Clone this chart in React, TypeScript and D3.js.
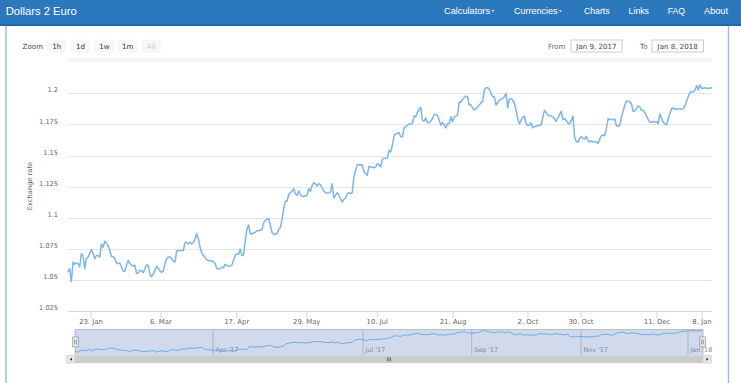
import React from 'react';
import * as d3 from 'd3';

// ---- data ----
const rates: number[] = [
  1.0566, 1.0592, 1.0487, 1.0645, 1.0626, 1.0637, 1.0632, 1.0605, 1.0711, 1.0697,
  1.0592, 1.0671, 1.0684, 1.0716, 1.0745, 1.0716, 1.0671, 1.0697, 1.0697, 1.0684,
  1.0789, 1.0763, 1.0811, 1.0797, 1.0776, 1.0737, 1.0689, 1.0689, 1.0671, 1.0637,
  1.0632, 1.0637, 1.0605, 1.0571, 1.0571, 1.0618, 1.0658, 1.0632, 1.0618, 1.0613,
  1.0618, 1.0553, 1.0558, 1.0579, 1.0574, 1.0558, 1.0592, 1.0624, 1.0618, 1.0547,
  1.0526, 1.0547, 1.0579, 1.0611, 1.0592, 1.0574, 1.0561, 1.0574, 1.0632, 1.0671,
  1.0684, 1.0684, 1.0671, 1.0650, 1.0645, 1.0732, 1.0737, 1.0737, 1.0737, 1.0737,
  1.0803, 1.0803, 1.0789, 1.0803, 1.0789, 1.0803, 1.0829, 1.0874, 1.0829, 1.0763,
  1.0716, 1.0697, 1.0679, 1.0663, 1.0658, 1.0653, 1.0653, 1.0645, 1.0632, 1.0592,
  1.0589, 1.0592, 1.0605, 1.0597, 1.0626, 1.0618, 1.0611, 1.0611, 1.0618, 1.0658,
  1.0697, 1.0711, 1.0705, 1.0750, 1.0697, 1.0697, 1.0816, 1.0908, 1.0942, 1.0874,
  1.0868, 1.0882, 1.0882, 1.0895, 1.0895, 1.0900, 1.0908, 1.0961, 1.0979, 1.0987,
  1.0995, 1.0942, 1.0882, 1.0868, 1.0868, 1.0874, 1.0908, 1.0921, 1.0987,
  1.1073, 1.1134, 1.1132, 1.1185, 1.1202, 1.1212, 1.1234, 1.1194, 1.1180, 1.1215,
  1.1185, 1.1175, 1.1172, 1.1175, 1.1185, 1.1234, 1.1212, 1.1261, 1.1282, 1.1274,
  1.1255, 1.1274, 1.1266, 1.1239, 1.1215, 1.1202, 1.1199, 1.1202, 1.1207, 1.1274,
  1.1159, 1.1180, 1.1202, 1.1185, 1.1153, 1.1126, 1.1148, 1.1159, 1.1194, 1.1202,
  1.1194, 1.1202, 1.1328, 1.1382, 1.1427, 1.1427, 1.1422, 1.1427, 1.1368, 1.1355,
  1.1341, 1.1414, 1.1409, 1.1409, 1.1401, 1.1409, 1.1435, 1.1427, 1.1409, 1.1470,
  1.1481, 1.1476, 1.1481, 1.1543, 1.1530, 1.1583, 1.1659, 1.1675, 1.1677, 1.1685,
  1.1651, 1.1651, 1.1723, 1.1731, 1.1745, 1.1753, 1.1753, 1.1758, 1.1820, 1.1812,
  1.1847, 1.1874, 1.1887, 1.1780, 1.1777, 1.1804, 1.1763, 1.1766, 1.1777, 1.1798,
  1.1831, 1.1831, 1.1825, 1.1785, 1.1745, 1.1766, 1.1745, 1.1723, 1.1758, 1.1758,
  1.1812, 1.1772, 1.1812, 1.1817, 1.1825, 1.1933, 1.1927, 1.1952, 1.1968, 1.1978,
  1.1973, 1.1906, 1.1911, 1.1879, 1.1866, 1.1879, 1.1892, 1.1906, 1.1927, 1.1933,
  1.2027, 1.2046, 1.2046, 1.2035, 1.2000, 1.1973, 1.1973, 1.1906,
  1.1927, 1.1946, 1.1954, 1.1959, 1.1973, 1.2000, 1.1883, 1.1954, 1.1959, 1.1946,
  1.1918, 1.1864, 1.1796, 1.1755, 1.1783, 1.1810, 1.1818, 1.1755, 1.1742, 1.1747,
  1.1764, 1.1723, 1.1734, 1.1736, 1.1742, 1.1742, 1.1747, 1.1810, 1.1864, 1.1845,
  1.1823, 1.1823, 1.1818, 1.1810, 1.1796, 1.1774, 1.1802, 1.1829, 1.1856, 1.1791,
  1.1796, 1.1783, 1.1761, 1.1755, 1.1783, 1.1818, 1.1647, 1.1614, 1.1606, 1.1639,
  1.1652, 1.1641, 1.1633, 1.1655, 1.1620, 1.1611, 1.1617, 1.1611, 1.1611, 1.1606,
  1.1598, 1.1633, 1.1660, 1.1666, 1.1660, 1.1715, 1.1796, 1.1791, 1.1791, 1.1788,
  1.1796, 1.1742, 1.1736, 1.1742, 1.1810, 1.1856, 1.1905, 1.1938, 1.1938, 1.1932,
  1.1918, 1.1856, 1.1859, 1.1878, 1.1899, 1.1891, 1.1864, 1.1864, 1.1845, 1.1818,
  1.1791, 1.1769, 1.1769, 1.1774, 1.1769, 1.1774, 1.1755, 1.1837, 1.1802, 1.1769,
  1.1755, 1.1747, 1.1796, 1.1837, 1.1878, 1.1883, 1.1872, 1.1878, 1.1872, 1.1878,
  1.1872, 1.1878, 1.1899, 1.1938, 1.1978, 1.2008, 1.2014, 1.2014, 1.2027, 1.2063,
  1.2027, 1.2068, 1.2041, 1.2041, 1.2046, 1.2041, 1.2041, 1.2041, 1.2046,
];

const yTicks: number[] = [1.025, 1.05, 1.075, 1.1, 1.125, 1.15, 1.175, 1.2];
const xTickLabels: string[] = ['23. Jan', '6. Mar', '17. Apr', '29. May', '10. Jul', '21. Aug', '2. Oct', '30. Oct', '11. Dec', '8. Jan'];
const xTickIndex: number[] = [13.8, 55.6, 100.9, 142.8, 185, 230.3, 275.1, 306.8, 352.3, 379.2];
const navLabels: string[] = ["Apr '17", "Jul '17", "Sep '17", "Nov '17", "Jan '18"];
const navIndex: number[] = [84.6, 176.6, 243.2, 310.2, 375.8];
const zoomButtons: string[] = ['1h', '1d', '1w', '1m', 'All'];
const menuItems: string[] = ['Calculators', 'Currencies', 'Charts', 'Links', 'FAQ', 'About'];
const fromDate = 'Jan 9, 2017';
const toDate = 'Jan 8, 2018';
const brand = 'Dollars 2 Euro';
const yTitle = 'Exchange rate';

const CHART_FONT = '"DejaVu Sans", Verdana, sans-serif';
const NAV_FONT = '"Liberation Sans", Arial, Helvetica, sans-serif';

export default function App() {
  const W = 741, H = 383;
  const x = d3.scaleLinear().domain([0, rates.length - 1]).range([68, 711.7]);
  const y = d3.scaleLinear().domain([1.025, 1.2]).range([311.1, 93.4]);
  const line = d3.line<number>().x((_, i) => x(i)).y((d) => y(d));

  const nx = d3.scaleLinear().domain([0, rates.length - 1]).range([75, 703]);
  const ny = d3.scaleLinear().domain(d3.extent(rates) as [number, number]).range([352.5, 330.5]);
  const navLine = d3.line<number>().x((_, i) => nx(i)).y((d) => ny(d));

  // menu layout: [left, width, caret]
  const menuLayout: [number, number, boolean][] = [
    [444, 46, true], [514, 43.5, true], [584, 25.6, false], [628.6, 20.4, false], [667.7, 17.3, false], [704, 24, false],
  ];
  const btnCenters = [56.7, 80.6, 104.3, 127.6, 151.2];

  return (
    <svg width={W} height={H} style={{ position: 'absolute', left: 0, top: 0, background: '#fff' }}>
      {/* navbar */}
      <rect x={0} y={0} width={W} height={25} fill="#2b78bd" />
      <rect x={0} y={24.5} width={W} height={1.5} fill="#1f609f" />
      <text x={5.7} y={14.6} fill="#fff" fontFamily={NAV_FONT} fontSize={11.2} textLength={71} lengthAdjust="spacingAndGlyphs">{brand}</text>
      {menuItems.map((m, i) => {
        const [lx, w, caret] = menuLayout[i];
        return (
          <g key={m}>
            <text x={lx} y={14} fill="#fff" fontFamily={NAV_FONT} fontSize={9.5} textLength={w} lengthAdjust="spacingAndGlyphs">{m}</text>
            {caret && <path d={`M${lx + w + 1.3},10.2 L${lx + w + 4.5},10.2 L${lx + w + 2.9},12 Z`} fill="#fff" />}
          </g>
        );
      })}
      {/* page side borders */}
      <line x1={6} x2={6} y1={26} y2={H} stroke="#93bfe6" strokeWidth={1.5} />
      <line x1={728.5} x2={728.5} y1={26} y2={H} stroke="#93bfe6" strokeWidth={1.5} />

      {/* range selector */}
      <text x={22.6} y={48.6} fontFamily={CHART_FONT} fontSize={7.1} fill="#444">Zoom</text>
      {zoomButtons.map((b, i) => (
        <g key={b}>
          <rect x={btnCenters[i] - 10} y={39.6} width={20} height={12.8} rx={2} fill="#f7f7f7" />
          <text x={btnCenters[i]} y={48.6} textAnchor="middle" fontFamily={CHART_FONT} fontSize={7.1} fill={b === 'All' ? '#cccccc' : '#333'}>{b}</text>
        </g>
      ))}
      <text x={565.5} y={48.6} textAnchor="end" fontFamily={CHART_FONT} fontSize={7.1} fill="#666">From</text>
      <rect x={571} y={40} width={51} height={12} fill="#fff" stroke="#cccccc" strokeWidth={1} />
      <text x={596.5} y={48.6} textAnchor="middle" fontFamily={CHART_FONT} fontSize={7.1} fill="#444">{fromDate}</text>
      <text x={647.5} y={48.6} textAnchor="end" fontFamily={CHART_FONT} fontSize={7.1} fill="#666">To</text>
      <rect x={652} y={40} width={51.5} height={12} fill="#fff" stroke="#cccccc" strokeWidth={1} />
      <text x={677.7} y={48.6} textAnchor="middle" fontFamily={CHART_FONT} fontSize={7.1} fill="#444">{toDate}</text>

      {/* top strip */}
      <rect x={68} y={58.5} width={643.7} height={3.3} fill="#f2f2f2" />

      {/* grid */}
      {yTicks.map((t) => (
        <g key={t}>
          <line x1={68} x2={711.7} y1={Math.round(y(t)) + 0.5} y2={Math.round(y(t)) + 0.5} stroke="#e6e6e6" strokeWidth={1} />
          <text x={58} y={y(t) - 1} textAnchor="end" fontFamily={CHART_FONT} fontSize={6.6} fill="#666">{String(t)}</text>
        </g>
      ))}
      <text transform={`translate(31.5,186) rotate(-90)`} textAnchor="middle" fontFamily={CHART_FONT} fontSize={6.7} fill="#666">{yTitle}</text>

      {/* x axis */}
      <line x1={68} x2={711.7} y1={311.5} y2={311.5} stroke="#ccd6eb" strokeWidth={1} />
      {xTickLabels.map((l, i) => (
        <g key={l}>
          <line x1={x(xTickIndex[i])} x2={x(xTickIndex[i])} y1={311.5} y2={318.3} stroke="#ccd6eb" strokeWidth={1} />
          <text x={x(xTickIndex[i])} y={324.4} textAnchor="middle" fontFamily={CHART_FONT} fontSize={6.9} fill="#666">{l}</text>
        </g>
      ))}

      {/* series */}
      <path d={line(rates) || ''} fill="none" stroke="#7cb5ec" strokeWidth={1.5} strokeLinejoin="round" strokeLinecap="round" />

      {/* navigator */}
      {navLabels.map((l, i) => (
        <g key={l}>
          <line x1={nx(navIndex[i])} x2={nx(navIndex[i])} y1={329.5} y2={355} stroke="#c8c8c8" strokeWidth={1} />
          <text x={nx(navIndex[i]) + 2.5} y={352.3} fontFamily={CHART_FONT} fontSize={6.4} fill="#8a8a8a">{l}</text>
        </g>
      ))}
      <path d={navLine(rates) || ''} fill="none" stroke="#7cb5ec" strokeWidth={1} />
      <rect x={75} y={329.5} width={628} height={25.5} fill="rgba(102,133,194,0.3)" />
      <path d="M75,355 L75,329.5 L703,329.5 L703,355" fill="none" stroke="#b8bed0" strokeWidth={1} />
      {[75.5, 702.5].map((hx) => (
        <g key={hx}>
          <rect x={hx - 2.8} y={337} width={5.6} height={9.8} fill="#f2f2f2" stroke="#999" strokeWidth={0.8} />
          <line x1={hx - 0.8} x2={hx - 0.8} y1={339.5} y2={344.5} stroke="#333" strokeWidth={0.5} />
          <line x1={hx + 0.8} x2={hx + 0.8} y1={339.5} y2={344.5} stroke="#333" strokeWidth={0.5} />
        </g>
      ))}

      {/* scrollbar */}
      <rect x={66.7} y={355.3} width={645} height={7.8} fill="#f2f2f2" />
      <rect x={75} y={355.3} width={628} height={7.8} fill="#cccccc" />
      <rect x={66.7} y={355.3} width={8.3} height={7.8} fill="#e6e6e6" stroke="#cccccc" strokeWidth={0.5} />
      <rect x={703} y={355.3} width={8.7} height={7.8} fill="#e6e6e6" stroke="#cccccc" strokeWidth={0.5} />
      <path d="M69.8,359.2 L72,357.7 L72,360.7 Z" fill="#333" />
      <path d="M708.6,359.2 L706.4,357.7 L706.4,360.7 Z" fill="#333" />
      {[-1.6, 0, 1.6].map((o) => (
        <line key={o} x1={389 + o} x2={389 + o} y1={357.4} y2={361.2} stroke="#333" strokeWidth={0.6} />
      ))}
    </svg>
  );
}
